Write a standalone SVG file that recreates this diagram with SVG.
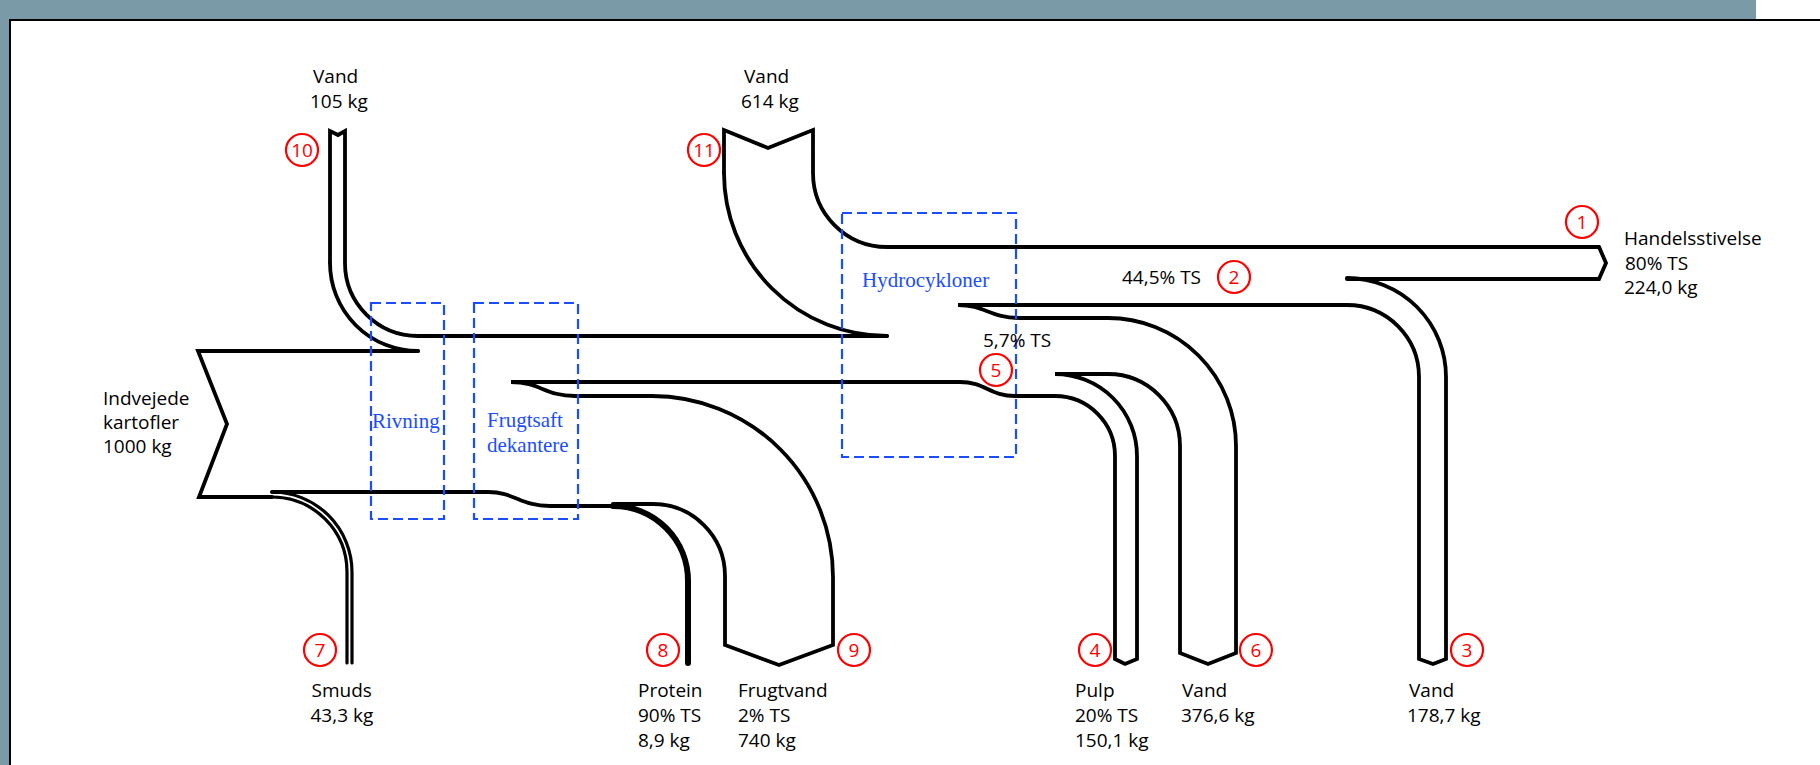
<svg xmlns="http://www.w3.org/2000/svg" width="1820" height="765" viewBox="0 0 1820 765">
<style>
.fl{fill:none;stroke:#000;stroke-width:3.8;stroke-linecap:round;stroke-linejoin:miter}
.pr{fill:none;stroke:#000;stroke-width:6;stroke-linecap:round}
.sm{fill:none;stroke:#000;stroke-width:3.2;stroke-linecap:round}
.box{fill:none;stroke:#1a4dff;stroke-width:2.2;stroke-dasharray:10 5}
.bl{font-family:"Liberation Serif",serif;font-size:21px;fill:#1a4dff}
.t{font-family:"Open Sans","Noto Sans",sans-serif;font-size:19px;fill:#000}
.nc{fill:none;stroke:#ff0000;stroke-width:2.2}
.nt{font-family:"Open Sans","Noto Sans",sans-serif;font-size:19px;fill:#ff0000;text-anchor:middle}
</style>
<rect x="0" y="0" width="1820" height="765" fill="#fff"/>
<rect x="0" y="0" width="1756" height="19" fill="#7a9aa7"/>
<rect x="0" y="0" width="9" height="765" fill="#7a9aa7"/>
<rect x="9" y="19" width="1811" height="2" fill="#000"/>
<rect x="9" y="19" width="2" height="746" fill="#000"/>

<g id="flows">
<path class="fl" d="M418,351 L198,351 L227,424 L199,497 L272,497"/>
<path class="sm" d="M272,497 A75,75 0 0 1 347,572 L347,663"/>
<path class="sm" d="M352,663 L352,572 A80,80 0 0 0 272,492"/>
<path class="fl" d="M272,492 L488,492 C515,492 520,506 550,506 L613,506"/>
<path class="fl" d="M330,263 L330,131 L338,135 L345,131 L345,263 A73,73 0 0 0 418,336 L887,336"/>
<path class="fl" d="M330,263 A88,88 0 0 0 418,351"/>
<path class="fl" d="M724,173 L724,130 L768,148 L813,130 L813,173 A74,74 0 0 0 887,247 L1599,247 L1606,263 L1599,279 L1347,279"/>
<path class="fl" d="M724,173 A163,163 0 0 0 887,336"/>
<path class="pr" d="M613,506 A75,75 0 0 1 688,581 L688,663"/>
<path class="fl" d="M613,504 L653,504 A72,72 0 0 1 725,576 L725,645 L779,665 L833,645 L833,577 A181,181 0 0 0 652,396 L575,396 C545,396 540,382 511,382 L960,382 C985,382 990,396 1015,396 L1055,396"/>
<path class="fl" d="M1055,396 A60,60 0 0 1 1115,456 L1115,659 L1125,664 L1137,659 L1137,456 A82,82 0 0 0 1055,374 L1108,374"/>
<path class="fl" d="M1108,374 A72,72 0 0 1 1180,446 L1180,653 L1208,664 L1236,653 L1236,446 A128,128 0 0 0 1108,318 L1020,318 C990,318 985,305 958,305 L1347,305"/>
<path class="fl" d="M1347,305 A72,72 0 0 1 1419,377 L1419,659 L1433,664 L1446,659 L1446,377 A99,99 0 0 0 1347,278"/>
</g>

<g id="rivning">
<rect class="box" x="371" y="303" width="73" height="216"/>
<text class="bl" x="372" y="428">Rivning</text>
</g>
<g id="frugtsaft">
<rect class="box" x="474" y="303" width="104" height="216"/>
<text class="bl" x="487" y="427">Frugtsaft</text>
<text class="bl" x="487" y="452">dekantere</text>
</g>
<g id="hydrocykloner">
<rect class="box" x="842" y="213" width="174" height="244"/>
<text class="bl" x="862" y="287">Hydrocykloner</text>
</g>

<g id="label-input">
<text class="t" x="103" y="405">Indvejede</text>
<text class="t" x="103" y="429">kartofler</text>
<text class="t" x="103" y="453">1000 kg</text>
</g>
<g id="label-10">
<text class="t" x="313" y="83">Vand</text>
<text class="t" x="310" y="108">105 kg</text>
<circle class="nc" cx="302" cy="150" r="16"/>
<text class="nt" x="302" y="157">10</text>
</g>
<g id="label-11">
<text class="t" x="744" y="83">Vand</text>
<text class="t" x="741" y="108">614 kg</text>
<circle class="nc" cx="704" cy="150" r="16"/>
<text class="nt" x="704" y="157">11</text>
</g>
<g id="label-1">
<circle class="nc" cx="1582" cy="222" r="16"/>
<text class="nt" x="1582" y="229">1</text>
<text class="t" x="1624" y="245">Handelsstivelse</text>
<text class="t" x="1625" y="269.5">80% TS</text>
<text class="t" x="1624" y="294">224,0 kg</text>
</g>
<g id="label-2">
<text class="t" x="1122" y="284">44,5% TS</text>
<circle class="nc" cx="1234" cy="277" r="16"/>
<text class="nt" x="1234" y="284">2</text>
</g>
<g id="label-5">
<text class="t" x="983" y="347">5,7% TS</text>
<circle class="nc" cx="996" cy="370" r="16"/>
<text class="nt" x="996" y="377">5</text>
</g>
<g id="label-7">
<circle class="nc" cx="320" cy="650" r="16"/>
<text class="nt" x="320" y="657">7</text>
<text class="t" x="311.5" y="697">Smuds</text>
<text class="t" x="310.5" y="722">43,3 kg</text>
</g>
<g id="label-8">
<circle class="nc" cx="663" cy="650" r="16"/>
<text class="nt" x="663" y="657">8</text>
<text class="t" x="638" y="697">Protein</text>
<text class="t" x="638" y="722">90% TS</text>
<text class="t" x="638" y="747">8,9 kg</text>
</g>
<g id="label-9">
<circle class="nc" cx="854" cy="650" r="16"/>
<text class="nt" x="854" y="657">9</text>
<text class="t" x="738" y="697">Frugtvand</text>
<text class="t" x="738" y="722">2% TS</text>
<text class="t" x="738" y="747">740 kg</text>
</g>
<g id="label-4">
<circle class="nc" cx="1095" cy="650" r="16"/>
<text class="nt" x="1095" y="657">4</text>
<text class="t" x="1075" y="697">Pulp</text>
<text class="t" x="1075" y="722">20% TS</text>
<text class="t" x="1075" y="747">150,1 kg</text>
</g>
<g id="label-6">
<circle class="nc" cx="1256" cy="650" r="16"/>
<text class="nt" x="1256" y="657">6</text>
<text class="t" x="1182" y="697">Vand</text>
<text class="t" x="1181" y="722">376,6 kg</text>
</g>
<g id="label-3">
<circle class="nc" cx="1467" cy="650" r="16"/>
<text class="nt" x="1467" y="657">3</text>
<text class="t" x="1409" y="697">Vand</text>
<text class="t" x="1407" y="722">178,7 kg</text>
</g>
</svg>
